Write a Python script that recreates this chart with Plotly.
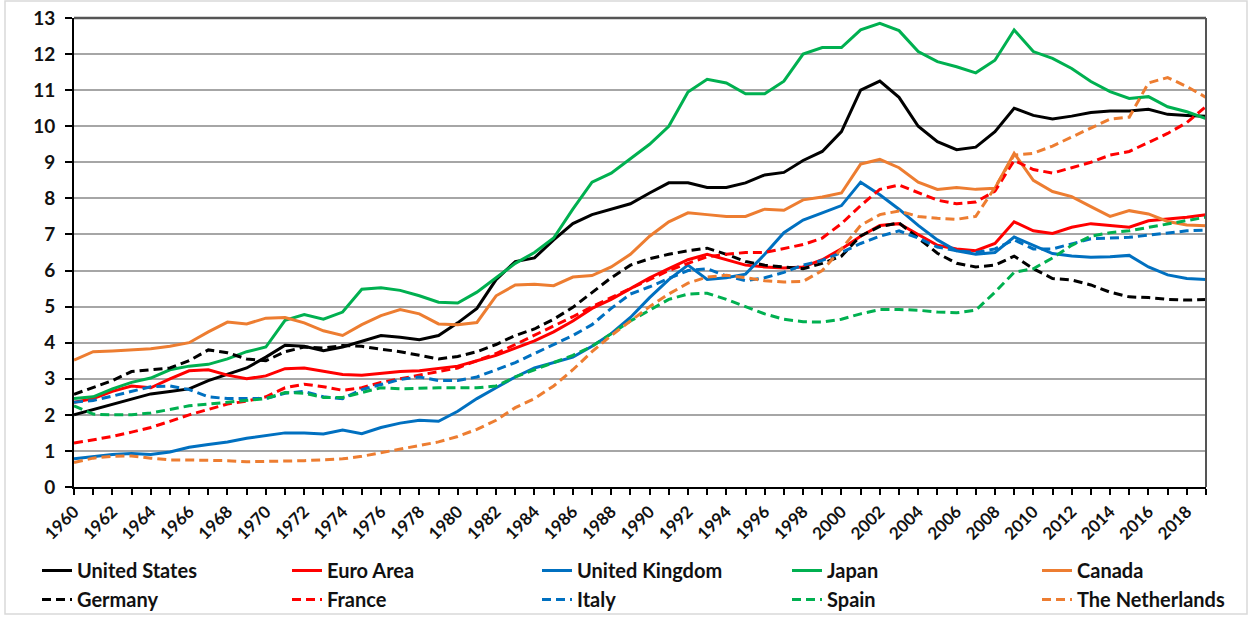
import plotly.graph_objects as go

years = list(range(1960, 2020))

united_states = [2.0, 2.15, 2.3, 2.45, 2.58, 2.65, 2.72, 2.95, 3.12, 3.3,
                 3.6, 3.93, 3.9, 3.78, 3.88, 4.05, 4.2, 4.15, 4.08, 4.2,
                 4.55, 4.95, 5.75, 6.25, 6.35, 6.85, 7.3, 7.55, 7.7, 7.85,
                 8.15, 8.43, 8.43, 8.3, 8.3, 8.43, 8.65, 8.72, 9.05, 9.3,
                 9.85, 11.0, 11.25, 10.8, 10.0, 9.57, 9.35, 9.42, 9.85, 10.5,
                 10.3, 10.2, 10.28, 10.38, 10.42, 10.42, 10.47, 10.33, 10.3, 10.28]
euro_area = [2.35, 2.45, 2.65, 2.8, 2.75, 3.0, 3.22, 3.25, 3.1, 3.0,
             3.08, 3.28, 3.3, 3.2, 3.12, 3.1, 3.15, 3.2, 3.22, 3.28,
             3.35, 3.5, 3.65, 3.85, 4.05, 4.3, 4.6, 4.95, 5.2, 5.5,
             5.8, 6.05, 6.3, 6.45, 6.3, 6.15, 6.1, 6.07, 6.1, 6.3,
             6.6, 6.95, 7.25, 7.3, 7.0, 6.7, 6.6, 6.55, 6.75, 7.35,
             7.1, 7.03, 7.2, 7.3, 7.25, 7.2, 7.38, 7.42, 7.48, 7.55]
united_kingdom = [0.78, 0.85, 0.9, 0.93, 0.9, 0.97, 1.1, 1.18, 1.25, 1.35,
                  1.42, 1.5, 1.5, 1.47, 1.58, 1.48, 1.65, 1.77, 1.85, 1.82,
                  2.1, 2.45, 2.75, 3.05, 3.3, 3.45, 3.6, 3.9, 4.25, 4.7,
                  5.25, 5.75, 6.15, 5.75, 5.8, 5.9, 6.45, 7.05, 7.4, 7.6,
                  7.8, 8.45, 8.1, 7.7, 7.25, 6.85, 6.55, 6.45, 6.5, 6.93,
                  6.7, 6.47, 6.4, 6.37, 6.38, 6.42, 6.1, 5.88, 5.78, 5.75]
japan = [2.45, 2.5, 2.72, 2.9, 3.02, 3.25, 3.35, 3.4, 3.55, 3.75,
         3.88, 4.62, 4.78, 4.65, 4.85, 5.48, 5.52, 5.45, 5.3, 5.12,
         5.1, 5.4, 5.8, 6.2, 6.5, 6.9, 7.7, 8.45, 8.7, 9.1,
         9.5, 10.0, 10.95, 11.3, 11.2, 10.9, 10.9, 11.25, 12.0, 12.18,
         12.18, 12.67, 12.85, 12.65, 12.07, 11.79, 11.65, 11.48, 11.83, 12.67,
         12.07, 11.88, 11.6, 11.24, 10.96, 10.77, 10.82, 10.54, 10.4, 10.21]
canada = [3.52, 3.75, 3.77, 3.8, 3.83, 3.9, 4.0, 4.3, 4.57, 4.52,
          4.68, 4.7, 4.55, 4.33, 4.2, 4.5, 4.75, 4.92, 4.8, 4.52,
          4.5, 4.56, 5.3, 5.6, 5.62, 5.58, 5.82, 5.86, 6.1, 6.45,
          6.95, 7.35, 7.6, 7.55, 7.5, 7.5, 7.7, 7.67, 7.96, 8.04,
          8.15, 8.95, 9.08, 8.85, 8.45, 8.25, 8.3, 8.25, 8.28, 9.25,
          8.5, 8.19, 8.05, 7.77, 7.5, 7.66, 7.57, 7.36, 7.26, 7.24]
germany = [2.57, 2.75, 2.95, 3.2, 3.25, 3.3, 3.5, 3.8, 3.72, 3.55,
           3.5, 3.75, 3.88, 3.85, 3.92, 3.9, 3.82, 3.75, 3.65, 3.55,
           3.62, 3.75, 3.95, 4.2, 4.38, 4.65, 4.98, 5.4, 5.8, 6.15,
           6.33, 6.45, 6.55, 6.62, 6.45, 6.25, 6.15, 6.1, 6.05, 6.2,
           6.4, 6.96, 7.22, 7.32, 6.89, 6.48, 6.2, 6.1, 6.15, 6.4,
           6.05, 5.78, 5.74, 5.6, 5.4, 5.27, 5.25, 5.2, 5.18, 5.2]
france = [1.22, 1.3, 1.4, 1.52, 1.65, 1.82, 2.0, 2.15, 2.3, 2.38,
          2.5, 2.75, 2.85, 2.78, 2.68, 2.75, 2.9, 3.0, 3.1, 3.2,
          3.3, 3.5, 3.7, 3.95, 4.2, 4.45, 4.72, 5.0, 5.25, 5.5,
          5.75, 6.0, 6.2, 6.38, 6.45, 6.5, 6.5, 6.6, 6.72, 6.9,
          7.3, 7.8, 8.25, 8.37, 8.15, 7.95, 7.85, 7.9, 8.2, 9.05,
          8.8, 8.7, 8.85, 9.0, 9.2, 9.3, 9.55, 9.8, 10.1, 10.55]
italy = [2.35, 2.4, 2.52, 2.65, 2.78, 2.8, 2.7, 2.5, 2.45, 2.45,
         2.45, 2.6, 2.65, 2.5, 2.45, 2.7, 2.85, 2.98, 3.05, 2.95,
         2.95, 3.05, 3.25, 3.45, 3.7, 3.95, 4.2, 4.5, 4.95, 5.35,
         5.55, 5.78, 6.0, 6.05, 5.85, 5.72, 5.8, 5.95, 6.15, 6.28,
         6.5, 6.75, 6.95, 7.1, 6.9, 6.65, 6.55, 6.5, 6.6, 6.85,
         6.6, 6.6, 6.75, 6.88, 6.9, 6.92, 6.98, 7.05, 7.1, 7.12]
spain = [2.25, 2.02, 2.0, 2.0, 2.05, 2.15, 2.25, 2.3, 2.35, 2.38,
         2.45, 2.62, 2.6, 2.48, 2.48, 2.62, 2.75, 2.72, 2.74, 2.75,
         2.75, 2.75, 2.8, 3.05, 3.25, 3.45, 3.65, 3.9, 4.25, 4.6,
         4.9, 5.2, 5.35, 5.37, 5.2, 5.0, 4.8, 4.65, 4.58, 4.57,
         4.65, 4.8, 4.92, 4.92, 4.9, 4.85, 4.83, 4.9, 5.4, 5.95,
         6.05, 6.35, 6.7, 6.95, 7.05, 7.1, 7.2, 7.3, 7.4, 7.48]
netherlands = [0.68, 0.8, 0.85, 0.86, 0.8, 0.75, 0.75, 0.75, 0.73, 0.7,
               0.7, 0.72, 0.73, 0.75, 0.78, 0.85, 0.95, 1.05, 1.15, 1.25,
               1.4, 1.6, 1.85, 2.2, 2.45, 2.8, 3.25, 3.75, 4.2, 4.6,
               5.0, 5.35, 5.65, 5.82, 5.87, 5.8, 5.72, 5.68, 5.7, 6.0,
               6.6, 7.25, 7.55, 7.65, 7.5, 7.45, 7.42, 7.5, 8.3, 9.2,
               9.25, 9.45, 9.7, 9.95, 10.2, 10.25, 11.2, 11.35, 11.1, 10.8]

series_names = ["United States", "Euro Area", "United Kingdom", "Japan", "Canada",
                "Germany", "France", "Italy", "Spain", "The Netherlands"]
series_values = [united_states, euro_area, united_kingdom, japan, canada,
                 germany, france, italy, spain, netherlands]
colors = ["#000000", "#FF0000", "#0070C0", "#00B050", "#ED7D31"] * 2
dashes = ["solid"] * 5 + ["9px,5px"] * 5
legend_ids = ["legend", "legend2", "legend3", "legend4", "legend5"] * 2

fig = go.Figure()
for name, vals, col, dash, lg in zip(series_names, series_values, colors, dashes, legend_ids):
    fig.add_trace(go.Scatter(x=years, y=vals, mode="lines", name=name,
                             line=dict(color=col, width=3, dash=dash),
                             legend=lg))

FONT = "Lato, 'DejaVu Sans', sans-serif"
legend_font = dict(family=FONT, size=20, color="#111111", weight=700)
col_x = [37, 287, 537, 787, 1037]
legend_layout = {}
for i, lg in enumerate(["legend", "legend2", "legend3", "legend4", "legend5"]):
    legend_layout[lg] = dict(x=col_x[i] / 1251, xref="container", xanchor="left",
                             y=1 - 551 / 618, yref="container", yanchor="top",
                             orientation="v", font=legend_font,
                             bgcolor="rgba(0,0,0,0)", borderwidth=0,
                             tracegroupgap=0)

fig.update_layout(
    width=1251, height=618,
    margin=dict(l=74, r=45, t=18, b=131, autoexpand=False),
    paper_bgcolor="white", plot_bgcolor="white",
    showlegend=True,
    **legend_layout,
    xaxis=dict(range=[1960, 2019], tickmode="array",
               tickvals=list(range(1960, 2019, 2)),
               ticktext=[str(y) for y in range(1960, 2019, 2)],
               tickangle=-45, ticks="outside", ticklen=6, tickwidth=1.5, tickcolor="black",
               minor=dict(dtick=1, tick0=1960, ticks="outside", ticklen=6, tickwidth=1.5,
                          tickcolor="black", showgrid=False),
               showgrid=False, showline=True, linecolor="black", linewidth=2,
               zeroline=False,
               tickfont=dict(family=FONT, size=17, color="#111111", weight=700)),
    yaxis=dict(range=[0, 13], dtick=1, tick0=0,
               ticks="outside", ticklen=7, tickwidth=1.5, tickcolor="black",
               showgrid=True, gridcolor="#a6a6a6", gridwidth=1.5,
               showline=True, linecolor="black", linewidth=2, zeroline=False,
               ticklabelstandoff=6,
               tickfont=dict(family=FONT, size=19, color="#111111", weight=700)),
)

# plot-area border (top / right) and outer frame
fig.add_shape(type="line", xref="paper", yref="paper", x0=0, x1=1, y0=1, y1=1,
              line=dict(color="#555555", width=2.5))
fig.add_shape(type="line", xref="paper", yref="paper", x0=1, x1=1, y0=0, y1=1,
              line=dict(color="#555555", width=2))
pw = 1251 - 74 - 45
ph = 618 - 18 - 131
fig.add_shape(type="rect", xref="paper", yref="paper",
              x0=(5 - 74) / pw, x1=(1247 - 74) / pw,
              y0=(487 - 614) / ph, y1=(487 - 1) / ph,
              line=dict(color="#d9d9d9", width=1.5), layer="below")

fig.write_html("out.html", config={"displayModeBar": False},
               post_script="document.body.style.margin='0px';document.body.style.overflow='hidden';")
